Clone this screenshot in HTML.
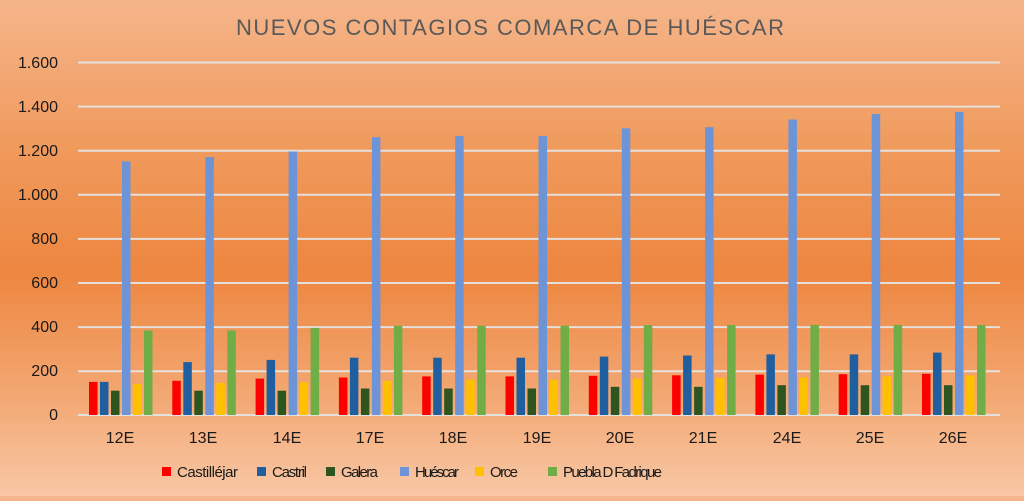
<!DOCTYPE html>
<html><head><meta charset="utf-8"><style>
html,body{margin:0;padding:0}
body{width:1024px;height:496px;overflow:hidden;background:linear-gradient(180deg,#f5b58a 0%,#f09a5c 30%,#ed8640 55%,#f3a873 80%,#f8c7a5 100%);font-family:"Liberation Sans",sans-serif}
</style></head><body>
<svg id="s" width="1024" height="496" xmlns="http://www.w3.org/2000/svg" font-family="Liberation Sans, sans-serif">
<text x="510" y="35" text-anchor="middle" font-size="22" fill="#595959" textLength="548">NUEVOS CONTAGIOS COMARCA DE HUÉSCAR</text>
<g stroke="#e6e0dc" stroke-width="2">
<line x1="78" x2="1000" y1="62.5" y2="62.5"/><line x1="78" x2="1000" y1="106.6" y2="106.6"/>
<line x1="78" x2="1000" y1="150.7" y2="150.7"/><line x1="78" x2="1000" y1="194.8" y2="194.8"/>
<line x1="78" x2="1000" y1="238.9" y2="238.9"/><line x1="78" x2="1000" y1="283" y2="283"/>
<line x1="78" x2="1000" y1="327.1" y2="327.1"/><line x1="78" x2="1000" y1="371.2" y2="371.2"/>
<line x1="78" x2="1000" y1="415" y2="415"/>
</g>
<g font-size="16" fill="#1a1a1a" text-anchor="end">
<text x="58" y="68">1.600</text><text x="58" y="112">1.400</text><text x="58" y="156">1.200</text>
<text x="58" y="200">1.000</text><text x="58" y="244">800</text><text x="58" y="288">600</text>
<text x="58" y="332">400</text><text x="58" y="376">200</text><text x="58" y="420">0</text>
</g>
<g id="bars"></g>
<g font-size="16" fill="#1a1a1a" text-anchor="middle">
<text x="120" y="443">12E</text><text x="203" y="443">13E</text><text x="287" y="443">14E</text>
<text x="370" y="443">17E</text><text x="453" y="443">18E</text><text x="537" y="443">19E</text>
<text x="620" y="443">20E</text><text x="703" y="443">21E</text><text x="787" y="443">24E</text>
<text x="870" y="443">25E</text><text x="953" y="443">26E</text>
</g>
<g font-size="15" fill="#1a1a1a">
<rect x="162" y="467" width="9" height="9" fill="#ff0000"/><text x="177" y="477" textLength="61">Castilléjar</text>
<rect x="257" y="467" width="9" height="9" fill="#1f5f9f"/><text x="272" y="477" textLength="35">Castril</text>
<rect x="326" y="467" width="9" height="9" fill="#2e5520"/><text x="341" y="477" textLength="37">Galera</text>
<rect x="400" y="467" width="9" height="9" fill="#6d94d6"/><text x="415" y="477" textLength="44">Huéscar</text>
<rect x="475" y="467" width="9" height="9" fill="#ffc000"/><text x="490" y="477" textLength="28">Orce</text>
<rect x="548" y="467" width="9" height="9" fill="#70ad47"/><text x="563" y="477" textLength="99">Puebla D Fadrique</text>
</g>
</svg>
<script>
var d=[[150,155,165,170,175,175,178,180,183,185,187],
[150,240,250,260,260,260,265,270,275,275,283],
[110,110,110,120,120,120,128,128,135,135,135],
[1150,1170,1195,1260,1265,1265,1300,1305,1340,1365,1375],
[140,145,148,155,160,160,165,168,170,175,180],
[383,383,395,405,405,405,408,408,408,408,408]];
var c=["#ff0000","#1f5f9f","#2e5520","#6d94d6","#ffc000","#70ad47"];
var g=document.getElementById("bars"),h="";
for(var i=0;i<11;i++)for(var s=0;s<6;s++){var v=d[s][i]*44.1/200,x=89+i*83.3+s*11;
h+='<rect x="'+x.toFixed(1)+'" y="'+(415-v).toFixed(1)+'" width="8.5" height="'+v.toFixed(1)+'" fill="'+c[s]+'"/>';}
g.innerHTML=h;
</script>
</body></html>
